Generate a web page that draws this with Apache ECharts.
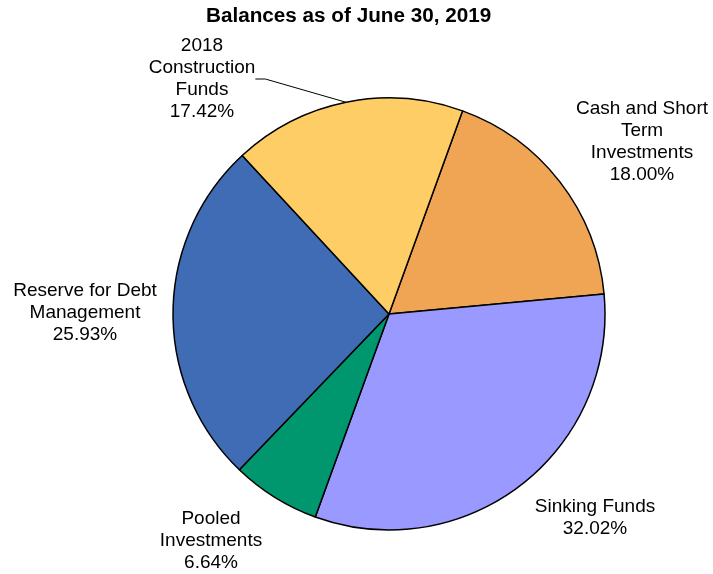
<!DOCTYPE html>
<html>
<head>
<meta charset="utf-8">
<script src="https://cdn.jsdelivr.net/npm/echarts@6/dist/echarts.min.js"></script>
<style>
  html, body { margin: 0; padding: 0; background: #fff; }
  #chart { width: 713px; height: 574px; }
</style>
</head>
<body>
<div id="chart"></div>
<script>
// Fund balances, share of total (%)
const categories = [
  'Cash and Short\nTerm\nInvestments',
  'Sinking Funds',
  'Pooled\nInvestments',
  'Reserve for Debt\nManagement',
  '2018\nConstruction\nFunds'
];
const shares = [18.00, 32.02, 6.64, 25.93, 17.42];
const sliceColors = ['#F0A555', '#9999FF', '#00966E', '#3F6CB4', '#FFCD66'];

// Where each label's centre sits on the canvas
const labelSpots = [
  [642, 142],
  [595, 518],
  [211, 541],
  [85, 313],
  [202, 79]
];

const chart = echarts.init(document.getElementById('chart'));
chart.setOption({
  animation: false,
  title: {
    text: 'Balances as of June 30, 2019',
    left: 201,
    top: 1,
    textStyle: {
      fontFamily: 'Liberation Sans, Arial, sans-serif',
      fontSize: 20.7,
      fontWeight: 'bold',
      color: '#000'
    }
  },
  series: [{
    type: 'pie',
    center: [389, 314],
    radius: 216,
    startAngle: 70.1,
    clockwise: true,
    data: categories.map((name, i) => ({
      name,
      value: shares[i],
      itemStyle: { color: sliceColors[i] },
      labelLine: { show: i === 4 }
    })),
    itemStyle: { borderColor: '#000', borderWidth: 1.5 },
    label: {
      show: true,
      position: 'outside',
      overflow: 'none',
      formatter: p => p.name + '\n' + p.value.toFixed(2) + '%',
      fontFamily: 'Liberation Sans, Arial, sans-serif',
      fontSize: 19,
      lineHeight: 22,
      align: 'center',
      color: '#000'
    },
    labelLine: {
      lineStyle: { color: '#000', width: 1 },
      length: 10,
      length2: 10
    },
    labelLayout: p => ({
      x: labelSpots[p.dataIndex][0],
      y: labelSpots[p.dataIndex][1],
      align: 'center',
      verticalAlign: 'middle'
    }),
    emphasis: { disabled: true }
  }]
});
</script>
</body>
</html>
